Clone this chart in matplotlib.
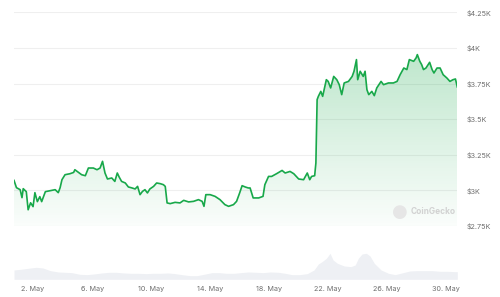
import datetime as dt
import numpy as np
import matplotlib
matplotlib.use('Agg')
import matplotlib.pyplot as plt
import matplotlib.dates as mdates
from matplotlib.ticker import FuncFormatter

plt.rcParams['font.family'] = ['Inter', 'DejaVu Sans']

start = dt.datetime(2024, 5, 1)

# price, hours after 1 May 00:00
price_hours = [-7, -3, 3, 6, 8, 13, 16, 20, 24, 27, 31, 35, 38, 44, 52, 60, 65, 68, 71, 76,
               84, 90, 92, 98, 103, 109, 114, 122, 128, 133, 137, 141, 145, 152, 157, 161, 164, 168, 174, 179,
               185, 190, 194, 198, 202, 206, 210, 214, 220, 225, 231, 236, 239, 242, 247, 255, 263, 269, 277, 285,
               293, 299, 302, 305, 312, 320, 328, 336, 342, 350, 355, 360, 364, 369, 374, 377, 382, 391, 398, 401,
               407, 412, 420, 429, 434, 442, 448, 456, 464, 470, 474, 477, 482, 484, 486, 488, 492, 495, 501, 504,
               508, 513, 518, 522, 526, 530, 537, 543, 546, 550, 552, 556, 561, 564, 567, 570, 575, 579, 583, 590,
               594, 602, 610, 616, 621, 627, 632, 636, 643, 647, 649, 653, 656, 659, 663, 669, 673, 676, 681, 686,
               691, 697, 702, 707, 711, 714]
price_usd = [3070, 3019, 3005, 2949, 3012, 2991, 2864, 2913, 2886, 2984, 2921, 2956, 2921, 2991, 2998, 3005, 2984, 3019, 3075, 3110,
             3117, 3126, 3145, 3126, 3110, 3103, 3157, 3157, 3145, 3157, 3204, 3122, 3080, 3087, 3063, 3122, 3094, 3063, 3052, 3024,
             3017, 3010, 3028, 2970, 2993, 3005, 2982, 3010, 3028, 3052, 3047, 3040, 3028, 2912, 2907, 2916, 2912, 2930, 2919, 2923,
             2935, 2923, 2888, 2970, 2970, 2958, 2935, 2900, 2888, 2900, 2923, 2982, 3033, 3024, 3017, 3017, 2947, 2947, 2958, 3040,
             3098, 3098, 3117, 3140, 3122, 3133, 3117, 3080, 3075, 3122, 3075, 3098, 3103, 3192, 3637, 3660, 3695, 3660, 3777, 3765,
             3719, 3800, 3777, 3742, 3672, 3754, 3765, 3800, 3836, 3918, 3777, 3836, 3800, 3836, 3707, 3672, 3695, 3665, 3719, 3765,
             3742, 3754, 3754, 3765, 3812, 3859, 3848, 3918, 3906, 3930, 3953, 3906, 3883, 3848, 3859, 3899, 3848, 3824, 3859, 3859,
             3812, 3789, 3765, 3777, 3782, 3726]

# volume (bn USD)
vol_hours = [-7, 4, 16, 29, 40, 52, 65, 76, 87, 100, 112, 123, 136, 148, 159, 172, 183, 195, 208, 219,
             231, 244, 255, 266, 279, 291, 302, 315, 327, 338, 351, 362, 374, 387, 398, 410, 423, 434, 445, 458,
             470, 481, 488, 494, 501, 507, 512, 519, 530, 541, 548, 553, 559, 566, 572, 579, 590, 602, 613, 626,
             637, 649, 662, 673, 686, 698, 709, 714]
vol_bn = [14, 15, 16.5, 18, 17, 13, 11, 10.5, 10, 7.5, 7, 8, 9.5, 10.5, 10.5, 9.5, 9, 9, 8.5, 9,
          9, 9.5, 8.5, 7, 5.5, 5.5, 7.5, 10, 10, 9, 9, 10, 11, 10.5, 10, 11, 10.5, 9, 7, 7,
          8.5, 14, 23, 26.5, 31.5, 39, 29, 24, 20, 19, 21.5, 31.5, 38, 39, 35, 24, 14, 9, 7, 10,
          12.5, 13, 13, 13, 12, 12, 11.5, 11.5]

tick_days = [2, 6, 10, 14, 18, 22, 26, 30]
price_ticks = [2750, 3000, 3250, 3500, 3750, 4000, 4250]
price_labels = ['$2.75K', '$3K', '$3.25K', '$3.5K', '$3.75K', '$4K', '$4.25K']

green = '#18a84a'
txt = '#6e6e6e'

t_price = [start + dt.timedelta(hours=h) for h in price_hours]
t_vol = [start + dt.timedelta(hours=h) for h in vol_hours]
x0, x1 = mdates.date2num(t_price[0]), mdates.date2num(t_price[-1])

W, H = 500, 297
fig = plt.figure(figsize=(W / 100, H / 100), dpi=100)

# price panel
ax = fig.add_axes([14 / W, 1 - 226 / H, (457.3 - 14) / W, (226 - 12.3) / H])
ax.set_xlim(x0, x1)
ax.set_ylim(2750, 4250)
for p in price_ticks:
	ax.axhline(p, color='#efefef', lw=0.8, zorder=0)

poly = ax.fill_between(t_price, price_usd, 2750, color='none', lw=0)
alpha = np.linspace(0.02, 0.34, 256)[:, None]
grad = np.zeros((256, 1, 4))
grad[..., 0], grad[..., 1], grad[..., 2] = 0.09, 0.66, 0.29
grad[..., 3] = alpha
img = ax.imshow(grad, extent=[x0, x1, 2750, 4250], origin='lower', aspect='auto', zorder=1)
img.set_clip_path(poly.get_paths()[0], transform=ax.transData)
ax.plot(t_price, price_usd, color=green, lw=1.2, zorder=3)

ax.yaxis.tick_right()
ax.set_yticks(price_ticks)
ax.set_yticklabels(price_labels)
ax.tick_params(axis='y', length=0, pad=7, labelsize=5.2, labelcolor=txt)
ax.set_xticks([])
for s in ax.spines.values():
	s.set_visible(False)
ax.patch.set_alpha(0)

# watermark
fig.text(400 / W, 1 - 212 / H, '●', fontsize=13, color='#e6e6e6', ha='center', va='center', family='DejaVu Sans')
fig.text(411 / W, 1 - 212 / H, 'CoinGecko', fontsize=6, color='#d2d2d2', ha='left', va='center', weight='bold')

# volume panel
axv = fig.add_axes([14 / W, 1 - 279.3 / H, (457.3 - 14) / W, 39.3 / H])
axv.fill_between(t_vol, vol_bn, 0, color='#eef0f4', lw=0)
axv.set_xlim(x0, x1)
axv.set_ylim(0, 59)
axv.set_yticks([])
axv.xaxis.set_major_locator(mdates.DayLocator(bymonthday=tick_days))
axv.xaxis.set_major_formatter(FuncFormatter(lambda v, pos: '%d. May' % mdates.num2date(v).day))
axv.tick_params(axis='x', length=0, pad=5, labelsize=5.2, labelcolor=txt)
for s in axv.spines.values():
	s.set_visible(False)

fig.savefig('out.png', dpi=100)
